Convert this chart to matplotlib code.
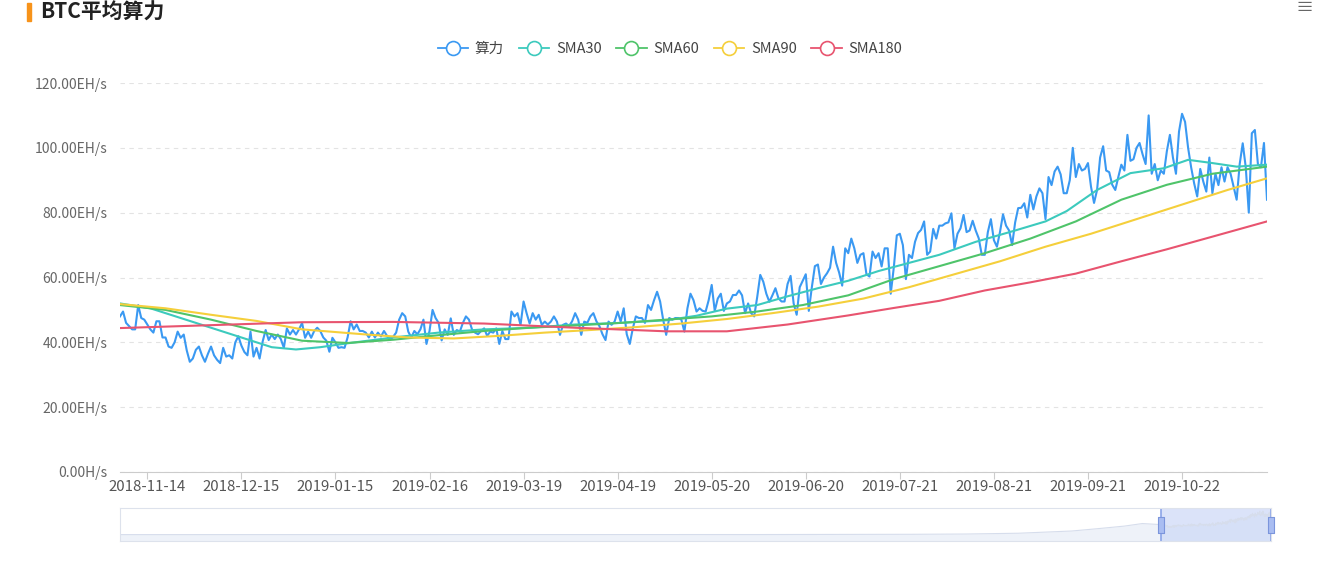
import matplotlib.pyplot as plt
import matplotlib.patches as mpatches
from matplotlib.lines import Line2D
import numpy as np
import pandas as pd

plt.rcParams['font.family'] = ['Noto Sans CJK SC', 'DejaVu Sans']

# daily categories (one day is missing in the source between mid Jan and mid Feb)
dates = pd.date_range('2018-11-05', '2019-11-19', freq='D')
dates = dates[dates != pd.Timestamp('2019-02-05')]
date_labels = [d.strftime('%Y-%m-%d') for d in dates]

# daily hash rate, EH/s
hashrate = [
    48, 49.5, 46, 45, 44, 44, 51.5, 47.5, 47, 45.5,
    44, 43, 46.5, 46.5, 41.5, 41.5, 38.7, 38.3, 40, 43.3,
    41.4, 42.4, 37.5, 34, 35, 37.7, 38.7, 36, 34, 36.5,
    38.7, 36, 34.6, 33.6, 38.3, 35.6, 36, 35, 40, 41.9,
    39, 37, 36, 43.3, 35.6, 38.3, 35, 40.2, 43.8, 40.7,
    42.4, 41, 42.4, 41, 38.3, 44.3, 42.4, 43.8, 42.4, 44,
    46, 41.4, 43.3, 41.4,
    43.5, 44.5, 43.5, 41.5, 40.5, 37.1, 41.4, 40, 38.3, 38.5,
    38.3, 41.5, 46.5, 44, 45.5, 43.5, 43.5, 43, 41.5, 43.3,
    41.5, 43, 41.8, 43.5, 42, 40.8, 41.7, 43, 47, 49,
    48, 43.3, 41.5, 43.5, 42.5, 44, 47, 39.5, 43.5, 50,
    47.5, 46, 40.6, 44, 42.3, 47.4, 42.3, 43.8, 43.3, 46,
    48, 47, 44, 43, 42.5, 43.5, 44.3, 42, 43.3, 43,
    44.3, 39.5, 43.5,
    41, 41, 49.5, 48, 49, 45.4, 52.6, 49, 45.8, 49,
    47, 48.5, 45.4, 46.4, 45.5, 46.4, 48, 46.4, 42.3, 45.4,
    45.8, 45, 46.5, 49, 47, 42.3, 46.4, 46, 48, 49,
    46.5, 45, 42.5, 40.7, 46.4, 45.4, 46.4, 49.5, 46.4, 50.5,
    42.5, 39.5, 44.3, 48, 47.5, 47.5, 46, 51.5, 50, 53,
    55.6, 52.6, 47, 42.3, 47.5, 47, 47.5, 47.5, 47, 43.3,
    50.5, 55, 53,
    49.5, 50.5, 49.7, 49.5, 53, 57.7, 49.7, 53.5, 55, 49.7,
    52, 52.6, 54.6, 54.6, 56, 54.5, 49, 52, 49, 48,
    54, 60.8, 58.7, 55, 52.5, 54.5, 56.7, 53.6, 52.6, 52.6,
    58, 60.5, 52, 48.5, 57, 59, 61, 49.7, 57, 63.5,
    64, 58, 60, 61.3, 63, 69.5, 64.5, 61.5, 57.5, 69,
    67.5, 72, 69, 64.5, 67, 67.5, 61, 60.3, 68, 66,
    67.5, 63.4, 69,
    69, 55, 63, 73, 73.5, 70, 59.5, 67, 66, 71,
    73.7, 74.7, 77.3, 67, 68, 75, 72, 76, 76, 76.7,
    77, 79.8, 69, 73.5, 75.2, 79.3, 74, 74.5, 77.5, 74.5,
    72.1, 67, 67, 74, 78, 71.5, 69.5, 74, 79.5, 76,
    74.5, 70, 77, 81.4, 81.5, 82.9, 78.5, 85.5, 81, 85,
    87.5, 86, 78, 91, 88.5, 92.7, 94.2, 91.8, 86, 86,
    90, 100,
    91, 95, 93, 93.5, 95.3, 88, 83, 87, 97, 100.5,
    93, 92.5, 88.6, 87, 91, 94.8, 93, 104, 96, 96.5,
    100, 101.5, 98, 95, 110, 92, 95, 90, 93, 92,
    99, 104, 97, 92, 105, 110.5, 108, 100, 94, 89,
    85, 93.5, 89.6, 86.5, 97, 86, 92, 88.5, 94, 89.6,
    94, 92, 88, 84, 95, 101.4, 94, 80, 104.5, 105.5,
    95, 94, 101.5, 84,
]

# moving averages, sampled at these category indices
sma30_idx = [0, 10, 20, 30, 40, 50, 58, 66, 75, 90, 105, 120, 135, 150, 165, 180, 190,
             200, 210, 220, 230, 240, 250, 260, 270, 282, 295, 305, 312, 322, 333, 344,
             352, 360, 368, 378]
sma30 = [52, 50.5, 47.5, 44.5, 41.5, 38.5, 37.8, 38.5, 39.7, 41.5, 43, 44, 44.5, 45.5,
         46, 46.8, 48.2, 50.4, 51.5, 54.2, 56.7, 59, 62, 64.5, 67, 71, 74.5, 77.3, 80.5,
         87, 92.2, 93.7, 96.3, 95.3, 94.2, 94.8]

sma60_idx = [0, 15, 30, 45, 60, 75, 90, 105, 120, 135, 150, 165, 180, 195, 210, 225,
             240, 255, 270, 285, 300, 315, 330, 345, 360, 378]
sma60 = [51.5, 50, 47, 43.5, 40.5, 39.8, 40.8, 42.2, 43.5, 44.5, 45.2, 46, 47, 48, 49.5,
         51.5, 54.5, 59.5, 63.5, 67.5, 72, 77.3, 84, 88.6, 92, 94.2]

sma90_idx = [0, 15, 30, 45, 60, 80, 95, 110, 125, 140, 155, 170, 185, 200, 215, 230,
             245, 260, 275, 290, 305, 320, 335, 350, 365, 378]
sma90 = [51.8, 50.5, 48.5, 46.6, 44, 42.5, 41.5, 41.2, 42, 43, 43.8, 44.7, 45.8, 47.2,
         49, 51, 53.5, 57, 61, 65, 69.5, 73.5, 78, 82.5, 87, 90.6]

sma180_idx = [0, 30, 60, 90, 120, 150, 180, 200, 220, 240, 255, 270, 285, 300, 315,
              330, 345, 360, 378]
sma180 = [44.4, 45.3, 46.2, 46.3, 45.8, 44.5, 43.4, 43.4, 45.5, 48.3, 50.6, 52.8, 56,
          58.5, 61.2, 65, 68.7, 72.6, 77.3]

# rough long-run history shown in the zoom slider shadow
hist_dates = ['2009-01-03', '2011-01-01', '2013-01-01', '2014-01-01', '2015-01-01',
              '2016-01-01', '2016-07-01', '2017-01-01', '2017-07-01', '2018-01-01',
              '2018-04-01', '2018-07-01', '2018-09-01', '2018-11-04']
hist_values = [0, 0, 0, 0.01, 0.3, 0.8, 1.5, 2.8, 6.5, 17, 28, 40, 52, 47]

series_names = ['算力', 'SMA30', 'SMA60', 'SMA90', 'SMA180']
colors = ['#3a99f2', '#3ccabd', '#4fc46a', '#f5cf3b', '#e8546f']

W, H = 1317, 569
fig = plt.figure(figsize=(W / 100, H / 100), dpi=100)
fig.patch.set_facecolor('white')

ax = fig.add_axes([120 / W, 97 / H, 1147 / W, 389 / H])
x = np.arange(len(hashrate))
ax.plot(x, hashrate, color=colors[0], lw=1.5, zorder=3)
ax.plot(sma30_idx, sma30, color=colors[1], lw=1.5, zorder=4)
ax.plot(sma60_idx, sma60, color=colors[2], lw=1.5, zorder=5)
ax.plot(sma90_idx, sma90, color=colors[3], lw=1.5, zorder=6)
ax.plot(sma180_idx, sma180, color=colors[4], lw=1.5, zorder=7)

ax.set_xlim(0, len(hashrate) - 1)
ax.set_ylim(0, 120)
yt = list(range(0, 121, 20))
ax.set_yticks(yt)
ax.set_yticklabels(['0.00H/s'] + [f'{v}.00EH/s' for v in yt[1:]])
ax.set_xticks(x[9::31])
ax.set_xticklabels(date_labels[9::31])
ax.grid(axis='y', color='#e3e3e3', ls=(0, (4, 4)), lw=0.8)
ax.set_axisbelow(True)
for s in ['top', 'right', 'left']:
    ax.spines[s].set_visible(False)
ax.spines['bottom'].set_color('#cccccc')
ax.tick_params(axis='y', length=0, pad=9, labelsize=10, labelcolor='#666666')
ax.tick_params(axis='x', length=5, color='#cccccc', pad=1, labelsize=10.8, labelcolor='#555555')

handles = [Line2D([0], [0], color=c, lw=1.3, marker='o', markersize=10,
                  markerfacecolor='white', markeredgewidth=1.2) for c in colors]
fig.legend(handles, series_names, loc='center', bbox_to_anchor=(670 / W, 1 - 49 / H),
           ncol=5, frameon=False, fontsize=10.5, handlelength=2.1, handletextpad=0.45,
           columnspacing=1.0, labelcolor='#444444')

# title at the top-left
fig.patches.append(mpatches.Rectangle((27 / W, 1 - 21 / H), 4 / W, 18 / H,
                                      color='#f7931a', transform=fig.transFigure))
fig.text(40 / W, 1 - 2 / H, 'BTC平均算力', fontsize=15, fontweight='bold',
         color='#222222', va='top')
fig.text(1305 / W, 1 - 8 / H, '≡', fontsize=13, color='#666666', ha='center', va='center')

# zoom slider
sl = fig.add_axes([120 / W, 28 / H, 1151 / W, 33 / H])
start = pd.Timestamp('2009-01-03')
hist_days = [(pd.Timestamp(d) - start).days for d in hist_dates]
main_days = [(d - start).days for d in dates]
sx = hist_days + main_days
sy = hist_values + hashrate
sl.fill_between(sx, sy, -30, color='#eef2f9', lw=0)
sl.plot(sx, sy, color='#d6ddec', lw=0.8)
sl.set_xlim(0, main_days[-1])
sl.set_ylim(-30, 125)
sl.axvspan(main_days[0], main_days[-1], color='#cfdaf7', alpha=0.75, lw=0)
for edge in (main_days[0], main_days[-1]):
    sl.axvline(edge, color='#8ba4e8', lw=1.2)
    sl.plot([edge], [47], marker=[(-0.35, -1), (0.35, -1), (0.35, 1), (-0.35, 1), (-0.35, -1)],
            markersize=12, markerfacecolor='#a9bdf2', markeredgecolor='#7b95dc',
            markeredgewidth=0.8, clip_on=False, zorder=5)
sl.set_xticks([])
sl.set_yticks([])
for s in sl.spines.values():
    s.set_color('#dde2ec')

fig.savefig('out.png', dpi=100, facecolor='white')
